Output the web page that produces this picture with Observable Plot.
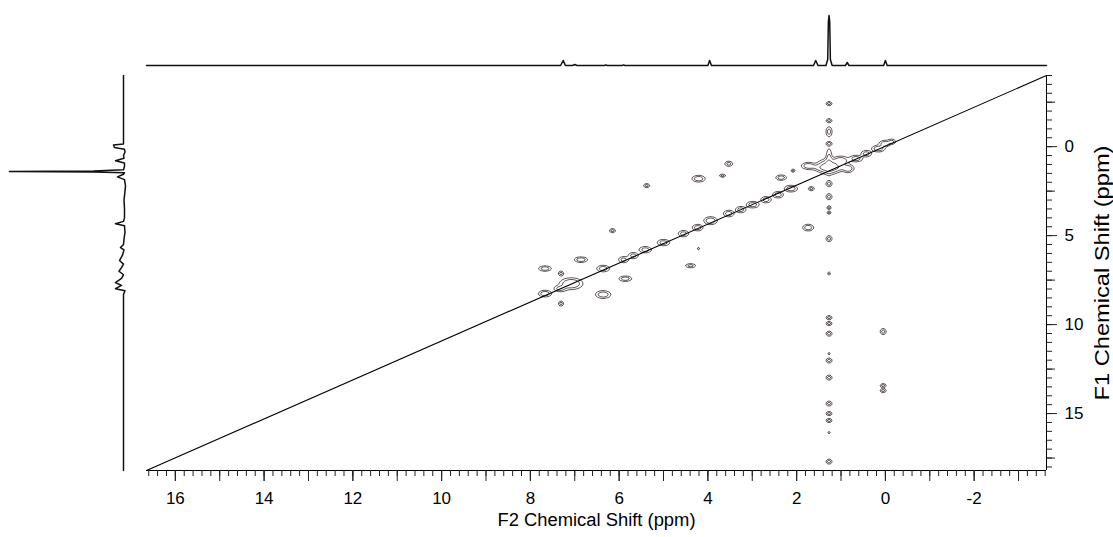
<!DOCTYPE html>
<html><head><meta charset="utf-8">
<script src="https://cdn.jsdelivr.net/npm/d3@7"></script>
<script src="https://cdn.jsdelivr.net/npm/@observablehq/plot@0.6"></script>
<style>
html,body{margin:0;padding:0;background:#fff;}
#wrap{position:relative;width:1113px;height:537px;overflow:hidden;font-family:"Liberation Sans",Arial,sans-serif;}
#wrap svg{position:absolute;left:0;top:0;}
</style></head><body><div id="wrap"></div>
<script>
// ---- axes (ppm) ----
const f2Domain = [16.65, -3.63];
const f1Domain = [-4.0, 18.2];
const f2MajorTicks = [16, 14, 12, 10, 8, 6, 4, 2, 0, -2];
const f1MajorTicks = [0, 5, 10, 15];
const f1MediumTicks = [-2.5, 2.5, 7.5, 12.5, 17.5];
const f2Title = "F2 Chemical Shift (ppm)";
const f1Title = "F1 Chemical Shift (ppm)";

// ---- top 1D projection (F2), vertices: shift, intensity ----
const topShift =     [16.65, 7.32, 7.26, 7.21, 7.05, 7.0, 6.95, 6.33, 6.3, 6.27, 5.93, 5.9, 5.87, 4.0, 3.96, 3.92, 1.62, 1.57, 1.52, 1.34, 1.30, 1.285, 1.27, 1.255, 1.24, 1.2, 0.9, 0.86, 0.82, 0.04, 0.0, -0.04, -3.63];
const topIntensity = [0,     0,    5,    0,    0,    1,   0,    0,    0.6, 0,    0,    0.6, 0,    0,   5,    0,    0,    5,    0,    0,    6,    44,    50,   44,    6,    0,   0,   3,    0,    0,    5,   0,     0];

// ---- left 1D projection (F1), vertices: shift, intensity ----
const leftShift =     [-4.0, -0.3, -0.15, -0.1, 0.05, 0.15, 0.3, 0.5, 0.65, 0.79, 0.92, 1.1, 1.3, 1.37, 1.40, 1.43, 1.47, 1.55, 1.7, 1.85, 2.2, 2.5, 3.0, 3.5, 4.0, 4.2, 4.33, 4.45, 4.8, 5.2, 5.5, 5.67, 5.8, 6.1, 6.4, 6.6, 6.8, 7.0, 7.2, 7.4, 7.64, 7.8, 7.98, 8.1, 8.3, 18.2];
const leftIntensity = [0,    0,    0,     10,   9,    -1,   -1.5, 0,  -0.5, 8,    -1,   -1,  0,   30,   114,  30,   -1,   0,    6,   -1,   -2,  -1.5, -0.5, -1, -1,  0,   8,    -1,   -1.5, -0.5, 0,  3,    -0.5, 1,  4,   0,   2,   4.5, 0,   2,   8,    2,   8,    -1.5, 0,  0];

// ---- 2D cross/diagonal peaks: F2 shift, F1 shift, half-widths (ppm), amplitude ----
const peakF2 = [
  1.27,1.27,1.27,1.27,1.27,1.27,1.27,1.27,1.27,1.27,1.27,1.27,1.27,1.27,1.27,1.27,1.27,1.27,1.27,1.27,1.27,
  0.05,0.05,0.05,
  7.67,7.67,7.31,7.31,7.08,7.33,6.86,6.36,6.36,5.86,5.90,5.68,5.41,5.00,4.39,4.21,6.15,4.55,4.23,3.94,3.53,
  5.38,4.21,3.67,3.53,3.26,2.99,2.69,2.42,2.13,2.35,2.08,1.67,1.74,1.27,1.27,1.27,1.74,1.00,0.84,0.66,0.43,0.16,0.02,-0.14];
const peakF1 = [
  -2.42,-1.46,-0.84,-0.17,2.08,2.81,3.43,3.71,5.17,7.13,9.61,9.94,10.51,11.63,12.02,12.98,14.44,15.0,15.39,16.07,17.70,
  10.39,13.43,13.71,
  8.26,6.85,7.13,8.82,7.70,7.98,6.35,6.85,8.31,7.42,6.35,6.12,5.79,5.39,6.69,5.73,4.72,4.89,4.55,4.16,3.76,
  2.19,1.80,1.63,0.96,3.54,3.26,2.98,2.70,2.36,1.74,1.35,2.36,4.55,1.12,0.79,1.17,1.07,0.79,1.24,0.67,0.39,0.11,-0.17,-0.28];
const peakWidthF2 = [
  .068,.068,.068,.068,.068,.068,.045,.045,.068,.03,.068,.068,.068,.03,.068,.068,.068,.068,.068,.03,.068,
  .068,.068,.068,
  .136,.136,.057,.057,.226,.136,.136,.136,.158,.136,.113,.113,.136,.136,.113,.025,.068,.113,.113,.136,.113,
  .068,.136,.068,.09,.113,.136,.113,.113,.136,.113,.045,.068,.113,.226,.068,.407,.136,.158,.113,.136,.113,.136,.113,.09];
const peakWidthF1 = [
  .112,.112,.28,.112,.169,.169,.112,.084,.169,.112,.112,.112,.14,.06,.14,.14,.14,.112,.112,.06,.14,
  .169,.112,.112,
  .169,.14,.14,.14,.28,.169,.14,.169,.197,.14,.169,.169,.169,.169,.112,.06,.112,.169,.169,.197,.169,
  .112,.169,.084,.14,.169,.169,.169,.169,.169,.14,.084,.112,.169,.337,.674,.169,.169,.225,.197,.169,.169,.169,.169,.14];
const peakAmp = [
  1,1,1,1,1,1,1,1,1,0.8,1,1,1,0.8,1,1,1,1,1,0.8,1,
  1,1,1,
  1.3,1.2,1,1,1.6,1,1.3,1.2,1.3,1.2,1,1,1.1,1.1,1,1,1,1.1,1.2,1.4,1.2,
  1,1.3,1,1,1.1,1.2,1.1,1.2,1.3,1.2,1,1,1.3,2.5,1,1,1.2,1.4,1.2,1.2,1.1,1.3,1.2,1];
const contourLevels = [0.3, 0.7, 1.6];

const font = '"Liberation Sans", Arial, sans-serif';
const wrap = document.getElementById("wrap");

// spectrum field sampled by the contour mark
const n = peakF2.length;
function field(x, y) {
  let v = 0;
  for (let i = 0; i < n; ++i) {
    const dx = (x - peakF2[i]) / (peakWidthF2[i] / 1.1);
    if (dx > 3.5 || dx < -3.5) continue;
    const dy = (y - peakF1[i]) / (peakWidthF1[i] / 1.1);
    if (dy > 3.5 || dy < -3.5) continue;
    v += peakAmp[i] * Math.exp(-dx * dx - dy * dy);
  }
  return v;
}

const f2Minor = d3.range(-3.6, 16.61, 0.2).map(d => +d.toFixed(1));
const f2Integer = d3.range(-3, 17);
const f1Minor = d3.range(-4, 18.01, 0.5);
const fmt = d => String(d);

const main = Plot.plot({
  width: 1113, height: 537,
  marginLeft: 146, marginRight: 67, marginTop: 75, marginBottom: 67,
  style: {fontFamily: font, background: "transparent", color: "#000", overflow: "visible"},
  x: {domain: f2Domain},
  y: {domain: f1Domain, reverse: true},
  marks: [
    Plot.contour({
      x1: f2Domain[0], x2: f2Domain[1], y1: f1Domain[0], y2: f1Domain[1],
      value: field, thresholds: contourLevels, pixelSize: 1,
      fill: "none", stroke: "#4f4545", strokeWidth: 0.9
    }),
    Plot.line([[f2Domain[0], f1Domain[1]], [f2Domain[1], f1Domain[0]]], {stroke: "#000", strokeWidth: 1.1}),
    Plot.ruleY([f1Domain[1]], {stroke: "#000", strokeWidth: 1}),
    Plot.ruleX([f2Domain[1]], {stroke: "#000", strokeWidth: 1}),
    Plot.axisX(f2Minor, {tickSize: 6, tickFormat: () => "", label: null, stroke: "#222"}),
    Plot.axisX(f2Integer, {tickSize: 11, tickFormat: () => "", label: null, stroke: "#222"}),
    Plot.axisX(f2MajorTicks, {tickSize: 11, tickPadding: 10, fontSize: 17, tickFormat: fmt, label: null, stroke: "#222"}),
    Plot.axisY(f1Minor, {anchor: "right", tickSize: 5, tickFormat: () => "", label: null, stroke: "#222"}),
    Plot.axisY(f1MediumTicks, {anchor: "right", tickSize: 8, tickFormat: () => "", label: null, stroke: "#222"}),
    Plot.axisY(f1MajorTicks, {anchor: "right", tickSize: 10, tickPadding: 8, fontSize: 17, tickFormat: fmt, label: null, stroke: "#222"}),
    Plot.text([f2Title], {frameAnchor: "bottom", dy: 55, fontSize: 18, fill: "#000", textAnchor: "middle"}),
    Plot.text([f1Title], {frameAnchor: "right", dx: 56, rotate: -90, fontSize: 20, fill: "#000", textAnchor: "middle"})
  ]
});
wrap.appendChild(main);
// stretch the F1 title along its length as in the reference
main.querySelectorAll("text").forEach(t => {
  if (t.textContent === f1Title) { t.setAttribute("textLength", 255); t.setAttribute("lengthAdjust", "spacingAndGlyphs"); }
  if (t.textContent === f2Title) { t.setAttribute("textLength", 198); t.setAttribute("lengthAdjust", "spacingAndGlyphs"); }
});

const top1d = Plot.plot({
  width: 1113, height: 75,
  marginLeft: 146, marginRight: 67, marginTop: 15, marginBottom: 10,
  style: {background: "transparent", overflow: "visible"},
  x: {domain: f2Domain, axis: null},
  y: {domain: [0, 50], axis: null},
  marks: [
    Plot.line(topShift.map((s, i) => [s, topIntensity[i]]), {stroke: "#111", strokeWidth: 1.5})
  ]
});
wrap.appendChild(top1d);

const left1d = Plot.plot({
  width: 146, height: 537,
  marginLeft: 9, marginRight: 23, marginTop: 75, marginBottom: 67,
  style: {background: "transparent", overflow: "visible"},
  x: {domain: [114, 0], axis: null},
  y: {domain: f1Domain, reverse: true, axis: null},
  marks: [
    Plot.line(leftShift.map((s, i) => [leftIntensity[i], s]), {stroke: "#111", strokeWidth: 1.5})
  ]
});
wrap.appendChild(left1d);
</script>
</body></html>
